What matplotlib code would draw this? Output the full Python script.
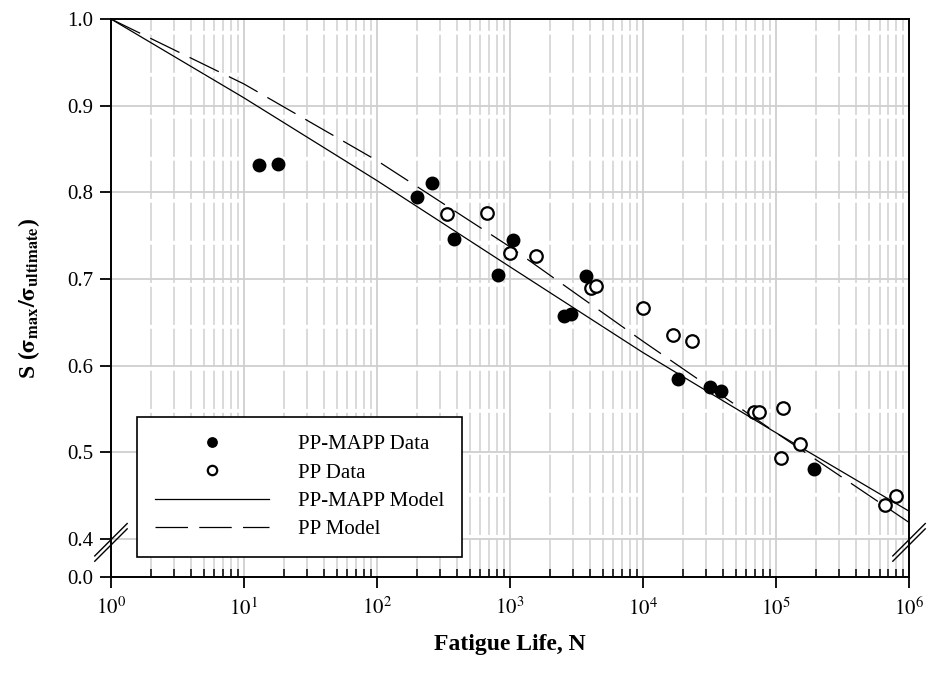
import numpy as np
import matplotlib
matplotlib.use("Agg")
from matplotlib import pyplot as plt
from matplotlib.ticker import LogLocator, FixedLocator, FuncFormatter, NullFormatter

plt.rcParams['font.family'] = ['Liberation Serif', 'DejaVu Serif']
plt.rcParams['mathtext.fontset'] = 'stix'

# PP-MAPP data (filled circles)
mapp_N = [13, 18, 200, 261, 381, 808, 1048, 2535, 2890, 3750, 18200, 31900, 38600, 192000]
mapp_S = [0.831, 0.833, 0.795, 0.811, 0.746, 0.705, 0.745, 0.657, 0.659, 0.703, 0.584, 0.575, 0.571, 0.481]

# PP data (open circles)
pp_N = [338, 671, 1000, 1577, 4085, 4455, 9950, 16700, 23200, 68400, 74900, 112000, 109000, 152000, 660000, 803000]
pp_S = [0.775, 0.776, 0.730, 0.727, 0.689, 0.692, 0.667, 0.635, 0.628, 0.5465, 0.5465, 0.551, 0.493, 0.509, 0.439, 0.450]

# model curves, read at each decade
model_N = [1e0, 1e1, 1e2, 1e3, 1e4, 1e5, 1e6]
mapp_model = [1.0, 0.909, 0.8135, 0.714, 0.615, 0.5225, 0.432]
pp_model = [1.0, 0.925, 0.8366, 0.737, 0.628, 0.5225, 0.419]

x_ticks = [1e0, 1e1, 1e2, 1e3, 1e4, 1e5, 1e6]
y_ticks = [0.0, 0.4, 0.5, 0.6, 0.7, 0.8, 0.9, 1.0]

# squeeze the 0.0-0.4 part of the y axis
k = 0.11
def fwd(y):
    y = np.asarray(y, float)
    return np.where(y >= 0.4, y, 0.4 - (0.4 - y) * k)

def inv(y):
    y = np.asarray(y, float)
    return np.where(y >= 0.4, y, 0.4 - (0.4 - y) / k)

fig = plt.figure(figsize=(9.27, 6.74), dpi=100)
ax = fig.add_axes([0.1197, 0.1439, 0.8609, 0.8279])
ax.set_xscale('log')
ax.set_yscale('function', functions=(fwd, inv))
ax.set_xlim(1, 1e6)
ax.set_ylim(0, 1.0)

# grid
ax.yaxis.set_major_locator(FixedLocator(y_ticks))
ax.xaxis.set_major_locator(FixedLocator(x_ticks))
ax.xaxis.set_minor_locator(LogLocator(base=10, subs=np.arange(2, 10), numticks=20))
ax.xaxis.set_minor_formatter(NullFormatter())
ax.grid(True, which='major', axis='both', color='#cfcfcf', linewidth=1.3, zorder=0)
ax.grid(True, which='minor', axis='x', color='#cfcfcf', linewidth=1.1,
        linestyle=(0, (25, 2.5)), zorder=0)
ax.set_axisbelow(True)

ax.plot(model_N, mapp_model, color='black', linewidth=0.9, label='PP-MAPP Model', zorder=3)
ax.plot(model_N, pp_model, color='black', linewidth=0.9, dashes=(26, 9), label='PP Model', zorder=3)
ax.plot(mapp_N, mapp_S, 'o', color='black', markersize=9, linestyle='none',
        label='PP-MAPP Data', zorder=4)
ax.plot(pp_N, pp_S, 'o', markerfacecolor='white', markeredgecolor='black', markeredgewidth=1.6,
        markersize=9, linestyle='none', label='PP Data', zorder=4)

ax.yaxis.set_major_formatter(FuncFormatter(lambda v, p: '%.1f' % v))
ax.xaxis.set_major_formatter(FuncFormatter(lambda v, p: r'$10^{%d}$' % round(np.log10(v))))

ax.tick_params(axis='x', which='major', direction='out', length=8, width=1.3, labelsize=15, pad=7)
ax.tick_params(axis='x', which='minor', direction='in', length=6, width=1.1)
ax.tick_params(axis='y', which='major', direction='out', length=8, width=1.3, labelsize=15, pad=5)
for s in ax.spines.values():
    s.set_linewidth(1.4)

ax.set_xlabel('Fatigue Life, N', fontsize=17, fontweight='bold', labelpad=10)
ax.set_ylabel(r'S ($\mathbf{\sigma_{max}/\sigma_{ultimate}}$)', fontsize=17, fontweight='bold', labelpad=18)

# axis break marks (double slash across both side spines near 0.4)
for xa in (0.0, 1.0):
    for yc in (0.0668, 0.0573):
        ax.plot([xa - 0.0203, xa + 0.0203], [yc - 0.029, yc + 0.029],
                transform=ax.transAxes, color='black', linewidth=1.0, clip_on=False, zorder=6)

h, l = ax.get_legend_handles_labels()
order = [2, 3, 0, 1]
leg = ax.legend([h[i] for i in order], [l[i] for i in order], loc='lower left',
                bbox_to_anchor=(0.0326, 0.0358), borderaxespad=0, fontsize=15,
                frameon=True, fancybox=False, edgecolor='black', framealpha=1,
                handlelength=5.5, handletextpad=1.4, borderpad=0.85, labelspacing=0.42,
                markerscale=0.75)
leg.get_frame().set_linewidth(1.2)

fig.savefig('out.png', dpi=100)
